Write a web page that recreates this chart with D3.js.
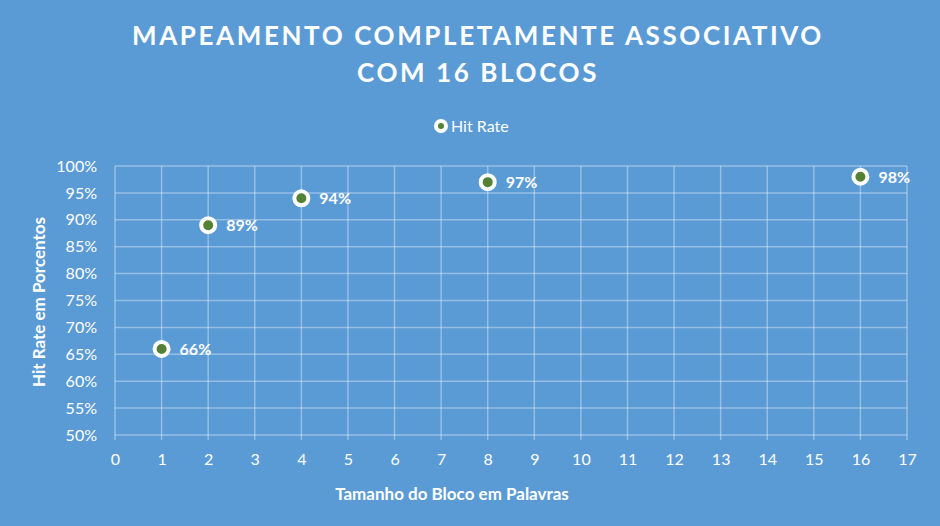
<!DOCTYPE html>
<html><head><meta charset="utf-8">
<script src="https://cdn.jsdelivr.net/npm/d3@7"></script>
<style>body{margin:0;background:#5B9BD5;} svg{display:block;font-family:Lato,"Open Sans",sans-serif;}</style>
</head><body>
<script>
const blockSizes = [1, 2, 4, 8, 16];
const hitRates = [66, 89, 94, 97, 98];
const xTicks = d3.range(0, 18);
const yTicks = d3.range(50, 101, 5);

const W = 940, H = 526;
const svg = d3.select("body").append("svg").attr("width", W).attr("height", H);
svg.append("rect").attr("width", W).attr("height", H).attr("fill", "#5B9BD5");

const m = {l:115, r:33, t:166, b:91};
const x = d3.scaleLinear().domain([0,17]).range([m.l, W-m.r]);
const y = d3.scaleLinear().domain([50,100]).range([H-m.b, m.t]);

const grid = "rgba(255,255,255,0.35)";
svg.append("g").selectAll("line").data(yTicks).join("line")
  .attr("x1", x(0)).attr("x2", x(17)).attr("y1", d=>y(d)).attr("y2", d=>y(d))
  .attr("stroke", grid).attr("stroke-width", 1.5);
svg.append("g").selectAll("line").data(xTicks).join("line")
  .attr("x1", d=>x(d)).attr("x2", d=>x(d)).attr("y1", y(100)).attr("y2", y(50)+5)
  .attr("stroke", grid).attr("stroke-width", 1.5);

const xAxis = svg.append("g").attr("transform", `translate(0,${y(50)})`)
  .call(d3.axisBottom(x).tickValues(xTicks).tickSize(0).tickPadding(19).tickFormat(d3.format("d")));
xAxis.select(".domain").remove();
xAxis.selectAll("text").attr("fill","#fff").attr("font-size","16px").attr("font-family","Lato,'Open Sans',sans-serif");

const yAxis = svg.append("g").attr("transform", `translate(${x(0)},0)`)
  .call(d3.axisLeft(y).tickValues(yTicks).tickSize(0).tickPadding(18).tickFormat(d=>d+"%"));
yAxis.select(".domain").remove();
yAxis.selectAll("text").attr("fill","#fff").attr("font-size","16px").attr("font-family","Lato,'Open Sans',sans-serif");

const pts = blockSizes.map((b,i)=>({x:b, y:hitRates[i]}));
svg.append("g").selectAll("circle").data(pts).join("circle")
  .attr("cx", d=>x(d.x)).attr("cy", d=>y(d.y)).attr("r", 7)
  .attr("fill", "#548235").attr("stroke", "#fff").attr("stroke-width", 4);
svg.append("g").selectAll("text").data(pts).join("text")
  .attr("x", d=>x(d.x)+18).attr("y", d=>y(d.y)).attr("dy","0.36em")
  .attr("fill","#fff").attr("font-size","16px").attr("font-weight","bold")
  .text(d=>d.y+"%");

const title = ["MAPEAMENTO COMPLETAMENTE ASSOCIATIVO", "COM 16 BLOCOS"];
svg.append("g").selectAll("text").data(title).join("text")
  .attr("x", W/2 + 8).attr("y", (d,i)=>45 + i*37)
  .attr("text-anchor","middle").attr("fill","#fff")
  .attr("font-size","26px").attr("font-weight","bold").attr("letter-spacing","2.6px")
  .text(d=>d);

svg.append("circle").attr("cx", 441).attr("cy", 126).attr("r", 5)
  .attr("fill","#548235").attr("stroke","#fff").attr("stroke-width",4);
svg.append("text").attr("x", 451).attr("y", 126).attr("dy","0.36em")
  .attr("fill","#fff").attr("font-size","16px").text("Hit Rate");

svg.append("text").attr("x", 452).attr("y", 500)
  .attr("text-anchor","middle").attr("fill","#fff").attr("font-size","17px").attr("font-weight","bold")
  .text("Tamanho do Bloco em Palavras");
svg.append("text").attr("transform", `translate(45,302) rotate(-90)`)
  .attr("text-anchor","middle").attr("fill","#fff").attr("font-size","17px").attr("font-weight","bold")
  .text("Hit Rate em Porcentos");
</script>
</body></html>
